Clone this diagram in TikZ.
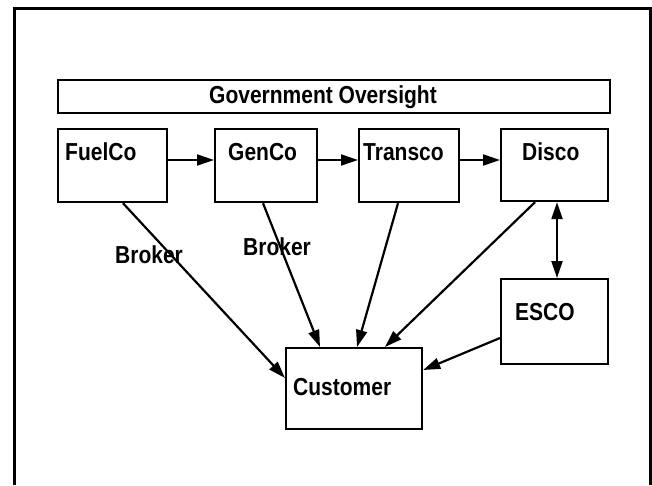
\documentclass[tikz,border=0pt]{standalone}
\usepackage{fontspec}
\setmainfont{Liberation Sans}
\usetikzlibrary{arrows.meta,calc}
\newcommand\tallt[1]{\scalebox{1}[1.17]{#1}}
\begin{document}
\begin{tikzpicture}[x=1pt,y=-1pt,
  box/.style={draw,line width=2.2pt,inner sep=0pt,anchor=north west},
  lbl/.style={inner sep=0pt,font=\fontsize{21}{21}\selectfont\bfseries},
  arr/.style={line width=2.2pt,-{Triangle[length=17pt,width=11pt]}},
  darr/.style={line width=2.2pt,{Triangle[length=17pt,width=11pt]}-{Triangle[length=17pt,width=11pt]}}]
\useasboundingbox (0,0) rectangle (652,485);
% outer frame
\draw[line width=3pt] (14.5,485) -- (14.5,8.5) -- (650.5,8.5) -- (650.5,485);
% boxes
\node[box,minimum width=552pt,minimum height=33pt] (gov) at (57,79) {};
\node[box,minimum width=109pt,minimum height=73pt] (fuel) at (57,128) {};
\node[box,minimum width=102pt,minimum height=73pt] (gen) at (214,128) {};
\node[box,minimum width=100pt,minimum height=73pt] (trans) at (358,128) {};
\node[box,minimum width=107pt,minimum height=72pt] (disco) at (500,128) {};
\node[box,minimum width=107pt,minimum height=85pt] (esco) at (500,278) {};
\node[box,minimum width=136pt,minimum height=81pt] (cust) at (285,347) {};
% texts
\node[lbl,anchor=base] (govt) at (323,103) {\tallt{Government Oversight}};
\node[lbl,anchor=base west] (fuelt) at (65,160) {\tallt{FuelCo}};
\node[lbl,anchor=base west] (gent) at (228,160) {\tallt{GenCo}};
\node[lbl,anchor=base west] (transt) at (363,160) {\tallt{Transco}};
\node[lbl,anchor=base west] (discot) at (522,160) {\tallt{Disco}};
\node[lbl,anchor=base west] (escot) at (515,320) {\tallt{ESCO}};
\node[lbl,anchor=base west] (custt) at (293,395) {\tallt{Customer}};
\node[lbl,anchor=base west] (brk1) at (115,263) {\tallt{Broker}};
\node[lbl,anchor=base west] (brk2) at (243,255) {\tallt{Broker}};
% horizontal chain
\draw[arr] (fuel.east |- 0,160) -- (gen.west |- 0,160);
\draw[arr] (gen.east |- 0,160) -- (trans.west |- 0,160);
\draw[arr] (trans.east |- 0,160) -- (disco.west |- 0,160);
% to customer
\draw[arr] (fuel.south -| 123,0) -- (cust.west |- 0,378);
\draw[arr] (gen.south -| 263,0) -- (cust.north -| 320,0);
\draw[arr] (trans.south -| 398,0) -- (cust.north -| 357,0);
\draw[arr] (disco.south -| 535,0) -- (cust.north -| 385,0);
\draw[arr] (esco.west |- 0,338) -- (cust.east |- 0,370);
% disco <-> esco
\draw[darr] (disco.south -| 557,0) -- (esco.north -| 557,0);
\end{tikzpicture}
\end{document}
